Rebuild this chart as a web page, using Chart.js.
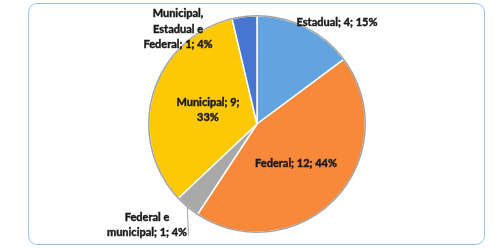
<!DOCTYPE html>
<html>
<head>
<meta charset="utf-8">
<script src="https://cdn.jsdelivr.net/npm/chart.js@4"></script>
<style>
  html, body { margin: 0; padding: 0; background: #fff; }
  #wrap { position: relative; width: 494px; height: 248px; }
  #frame {
    position: absolute; left: 28px; top: 3px; width: 455px; height: 240px;
    border: 1.5px solid #9fc5ea; border-radius: 9px;
  }
  #c { position: absolute; left: 0; top: 0; }
</style>
</head>
<body>
<div id="wrap">
  <div id="frame"></div>
  <canvas id="c" width="494" height="248"></canvas>
</div>
<script>
// dados
const categorias = ['Estadual', 'Federal', 'Federal e municipal', 'Municipal', 'Municipal, Estadual e Federal'];
const valores    = [4, 12, 1, 9, 1];
const percentuais = [15, 44, 4, 33, 4];
const cores      = ['#63a3df', '#f8893b', '#a9a9a9', '#fdc804', '#4676cf'];

// posição dos rótulos (relativa ao centro da pizza) e largura máx. para quebra
const rotuloPos   = [[80, -102], [39, 39], [-110, 101], [-49, -14], [-79, -95]];
const rotuloLarg  = [200, 200, 92, 78, 78];
const FONT = 'bold 11px Lato';
const LH = 15.5;

function quebra(ctx, texto, maxW) {
  const palavras = texto.split(' ');
  const linhas = [];
  let atual = '';
  palavras.forEach(p => {
    const t = atual ? atual + ' ' + p : p;
    if (ctx.measureText(t).width > maxW && atual) { linhas.push(atual); atual = p; }
    else atual = t;
  });
  if (atual) linhas.push(atual);
  return linhas;
}

// borda cinza externa da pizza
const aro = {
  id: 'aro',
  afterDatasetsDraw(chart) {
    const arc = chart.getDatasetMeta(0).data[0];
    if (!arc) return;
    const ctx = chart.ctx;
    ctx.save();
    ctx.strokeStyle = '#a3a3a3';
    ctx.lineWidth = 1.5;
    ctx.beginPath();
    ctx.arc(arc.x, arc.y, arc.outerRadius, 0, Math.PI * 2);
    ctx.stroke();
    ctx.restore();
  }
};

const rotulos = {
  id: 'rotulos',
  afterDatasetsDraw(chart) {
    const ctx = chart.ctx;
    const meta = chart.getDatasetMeta(0);
    ctx.save();
    ctx.font = FONT;
    ctx.fillStyle = '#1b1b1b';
    ctx.strokeStyle = '#1b1b1b';
    ctx.lineWidth = 0.45;
    ctx.textAlign = 'center';
    ctx.textBaseline = 'middle';
    meta.data.forEach((arc, i) => {
      const cx = arc.x, cy = arc.y;
      const txt = `${categorias[i]}; ${valores[i]}; ${percentuais[i]}%`;
      const linhas = quebra(ctx, txt, rotuloLarg[i]);
      const lx = cx + rotuloPos[i][0];
      const ly = cy + rotuloPos[i][1];
      const y0 = ly - (linhas.length - 1) * LH / 2;
      linhas.forEach((l, k) => {
        ctx.fillText(l, lx, y0 + k * LH);
        ctx.strokeText(l, lx, y0 + k * LH);
      });
      // linha de chamada do rótulo "Federal e municipal"
      if (i === 2) {
        const mid = (arc.startAngle + arc.endAngle) / 2;
        const ex = cx + Math.cos(mid) * arc.outerRadius;
        const ey = cy + Math.sin(mid) * arc.outerRadius;
        ctx.save();
        ctx.strokeStyle = '#a0a0a0';
        ctx.lineWidth = 1;
        ctx.beginPath();
        ctx.moveTo(ex, ey);
        ctx.lineTo(ex + 1, y0 + LH + 3);
        ctx.stroke();
        ctx.restore();
      }
    });
    ctx.restore();
  }
};

new Chart(document.getElementById('c'), {
  type: 'pie',
  data: {
    labels: categorias,
    datasets: [{
      data: valores,
      backgroundColor: cores,
      borderColor: '#ffffff',
      borderWidth: 1.5
    }]
  },
  options: {
    responsive: false,
    animation: false,
    layout: { padding: { left: 148, right: 128, top: 15, bottom: 15 } },
    plugins: {
      legend: { display: false },
      tooltip: { enabled: false }
    }
  },
  plugins: [aro, rotulos]
});
</script>
</body>
</html>
